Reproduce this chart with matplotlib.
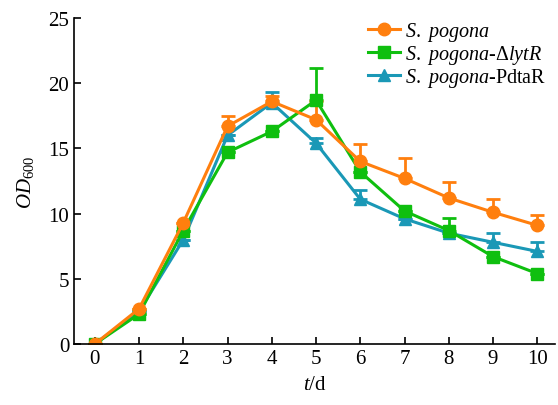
import numpy as np
import matplotlib.pyplot as plt
from matplotlib.lines import Line2D

plt.rcParams['font.family'] = ['Liberation Serif', 'DejaVu Serif']
plt.rcParams['mathtext.fontset'] = 'custom'
plt.rcParams['mathtext.it'] = 'Liberation Serif:italic'
plt.rcParams['mathtext.rm'] = 'Liberation Serif'

days = np.arange(0, 11)

wt = [0, 2.7, 9.3, 16.7, 18.6, 17.2, 14.0, 12.7, 11.2, 10.1, 9.1]
wt_err = [0, 0, 0, 0.8, 0.4, 1.4, 1.3, 1.6, 1.2, 1.0, 0.8]

lytr = [0, 2.3, 8.7, 14.7, 16.3, 18.7, 13.2, 10.2, 8.7, 6.7, 5.4]
lytr_err = [0, 0, 0, 0, 0, 2.5, 0, 0, 1.0, 0, 0]

pdtar = [0, 2.5, 8.0, 16.0, 18.5, 15.4, 11.1, 9.6, 8.5, 7.8, 7.1]
pdtar_err = [0, 0, 0, 0, 0.8, 0.4, 0.7, 0, 0, 0.7, 0.7]

labels = [r'$S.$ $pogona$', r'$S.$ $pogona$-$\Delta$$lytR$', r'$S.$ $pogona$-PdtaR']
colors = ['#ff7f0e', '#0fbf0f', '#1a98b6']
markers = ['o', 's', '^']

fig = plt.figure(figsize=(5.58, 4.06), dpi=100)
ax = fig.add_axes([74 / 558, 61 / 406, (555 - 74) / 558, (345 - 19) / 406])

series = [(pdtar, pdtar_err), (lytr, lytr_err), (wt, wt_err)]
order = [2, 1, 0]
for (vals, err), i in zip(series, order):
    err = np.array(err)
    ax.errorbar(days, vals, yerr=[np.zeros_like(err), err], color=colors[i],
                marker=markers[i], markersize=9, linewidth=2.2,
                elinewidth=2, capsize=5, capthick=2)

ax.set_xlim(-0.47, 10.4)
ax.set_ylim(0, 25)
ax.set_xticks(days)
ax.set_yticks(np.arange(0, 26, 5))
ax.spines['top'].set_visible(False)
ax.spines['right'].set_visible(False)
ax.spines['left'].set_linewidth(1.2)
ax.spines['bottom'].set_linewidth(1.2)
ax.tick_params(direction='in', length=5, width=1.2, labelsize=15)
ax.set_xlabel(r'$t$/d', fontsize=15, labelpad=5)
ax.set_ylabel(r'$OD_{600}$', fontsize=15, labelpad=9)

handles = [Line2D([], [], color=c, marker=m, markersize=9, linewidth=2.2)
           for c, m in zip(colors, markers)]
ax.legend(handles, labels, loc='upper right',
          bbox_to_anchor=(1.02, 1.05), frameon=False, fontsize=14.5,
          handlelength=1.6, handletextpad=0.25, labelspacing=0.0)

fig.savefig('out.png', dpi=100)
